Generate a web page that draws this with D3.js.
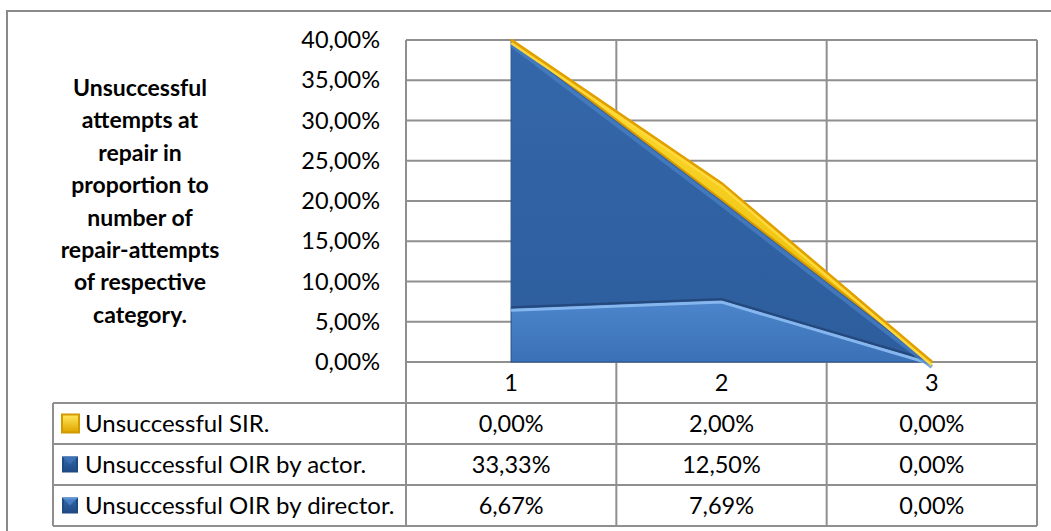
<!DOCTYPE html>
<html><head><meta charset="utf-8">
<script src="https://cdn.jsdelivr.net/npm/d3@7"></script>
<style>
html,body{margin:0;padding:0;background:#fff;overflow:hidden;}
svg{display:block;font-family:Lato,"Open Sans",sans-serif;}
</style></head>
<body>
<svg id="chart" width="1051" height="531"></svg>
<script>
// ---- data ----
const categories = ["1", "2", "3"];
const seriesNames = ["Unsuccessful SIR.", "Unsuccessful OIR by actor.", "Unsuccessful OIR by director."];
const sirValues = [0.00, 2.00, 0.00];
const actorValues = [33.33, 12.50, 0.00];
const directorValues = [6.67, 7.69, 0.00];
const yTicks = [0, 5, 10, 15, 20, 25, 30, 35, 40];
const titleLines = ["Unsuccessful", "attempts at", "repair in", "proportion to", "number of", "repair-attempts", "of respective", "category."];

// ---- layout ----
const svg = d3.select("#chart");
const plot = {left: 406, right: 1037, top: 40, bottom: 362};
const tableLeft = 53, rowH = 41;
const gridColor = "#8f8f8f";
const loc = d3.formatLocale({decimal: ",", thousands: ".", grouping: [3], currency: ["", ""]});
const fmt = v => loc.format(".2f")(v) + "%";

const x = d3.scaleBand().domain(categories).range([plot.left, plot.right]).padding(0);
const xc = c => x(c) + x.bandwidth() / 2;
const y = d3.scaleLinear().domain([0, 40]).range([plot.bottom, plot.top]);

// defs
const defs = svg.append("defs");
function lg(id, stops, x1=0, y1=0, x2=0, y2=1) {
  const g = defs.append("linearGradient").attr("id", id)
    .attr("x1", x1).attr("y1", y1).attr("x2", x2).attr("y2", y2);
  stops.forEach(s => g.append("stop").attr("offset", s[0]).attr("stop-color", s[1]));
}
lg("gDir", [[0, "#4d86cc"], [1, "#3a70b6"]]);
lg("gAct", [[0, "#3467aa"], [1, "#2d5d9c"]]);
lg("gSir", [[0, "#ffe03a"], [1, "#e8b800"]]);
lg("mGold", [[0, "#ffe45a"], [1, "#e0a800"]]);
lg("mBlue", [[0, "#3e74ba"], [1, "#23508c"]]);

// outer border
svg.append("rect").attr("x", 7).attr("y", 11).attr("width", 1100).attr("height", 600)
  .attr("fill", "none").attr("stroke", "#8a8a8a").attr("stroke-width", 2);

// horizontal gridlines
svg.append("g").selectAll("line").data(yTicks).join("line")
  .attr("x1", plot.left).attr("x2", plot.right)
  .attr("y1", d => y(d)).attr("y2", d => y(d))
  .attr("stroke", gridColor).attr("stroke-width", 2);

// vertical lines (category boundaries), through plot and table
const bounds = categories.map(c => x(c)).concat([plot.right]);
svg.append("g").selectAll("line").data(bounds).join("line")
  .attr("x1", d => d).attr("x2", d => d)
  .attr("y1", plot.top).attr("y2", plot.bottom + rowH * 4)
  .attr("stroke", gridColor).attr("stroke-width", 2);

// table horizontal lines
const tableRowsY = [1, 2, 3, 4].map(i => plot.bottom + rowH * i);
svg.append("g").selectAll("line").data(tableRowsY).join("line")
  .attr("x1", tableLeft).attr("x2", plot.right)
  .attr("y1", d => d).attr("y2", d => d)
  .attr("stroke", gridColor).attr("stroke-width", 2);
svg.append("line").attr("x1", tableLeft).attr("x2", tableLeft)
  .attr("y1", plot.bottom + rowH).attr("y2", plot.bottom + rowH * 4)
  .attr("stroke", gridColor).attr("stroke-width", 2);

// stacked areas
const rows = categories.map((c, i) => ({cat: c, director: directorValues[i], actor: actorValues[i], sir: sirValues[i]}));
const stack = d3.stack().keys(["director", "actor", "sir"]);
const stacked = stack(rows);
const area = d3.area().x(d => xc(d.data.cat)).y0(d => y(d[0])).y1(d => y(d[1]));
const topLine = d3.line().x(d => xc(d.data.cat)).y(d => y(d[1]));
const fills = {director: "url(#gDir)", actor: "url(#gAct)", sir: "url(#gSir)"};
const g = svg.append("g");
stacked.forEach(s => {
  g.append("path").datum(s).attr("d", area).attr("fill", fills[s.key])
    .attr("stroke", s.key === "sir" ? "#d99a00" : "#2a5590").attr("stroke-width", s.key === "sir" ? 2 : 1.2)
    .attr("stroke-linejoin", "round");
});
// bevel highlights along top edges
const dirS = stacked[0], actS = stacked[1], sirS = stacked[2];
g.append("path").datum(dirS).attr("d", topLine).attr("fill", "none")
  .attr("stroke", "#86b6ee").attr("stroke-width", 3).attr("transform", "translate(0,2)");
g.append("path").datum(dirS).attr("d", topLine).attr("fill", "none")
  .attr("stroke", "#24487c").attr("stroke-width", 2).attr("transform", "translate(0,-1)");
g.append("path").datum(actS).attr("d", topLine).attr("fill", "none")
  .attr("stroke", "#4a82c6").attr("stroke-width", 4).attr("transform", "translate(0,5)").attr("opacity", 0.7);
g.append("path").datum(sirS).attr("d", topLine).attr("fill", "none")
  .attr("stroke", "#e0a000").attr("stroke-width", 3).attr("stroke-linejoin", "round");
g.append("path").datum(sirS).attr("d", topLine).attr("fill", "none")
  .attr("stroke", "#ffd83a").attr("stroke-width", 2.5).attr("transform", "translate(0,3)");

// y axis labels
const yAxis = d3.axisLeft(y).tickValues(yTicks).tickFormat(fmt).tickSize(0).tickPadding(0);
const ya = svg.append("g").attr("transform", "translate(380,0)").call(yAxis);
ya.select(".domain").remove();
ya.selectAll("text").attr("font-size", "23.5px").attr("font-family", "Lato").attr("fill", "#000");

// x axis (category header row)
const xAxis = d3.axisBottom(x).tickSize(0).tickPadding(0);
const xa = svg.append("g").attr("transform", `translate(0,${plot.bottom + rowH / 2})`).call(xAxis);
xa.select(".domain").remove();
xa.selectAll("text").attr("font-size", "23.5px").attr("font-family", "Lato").attr("fill", "#000")
  .attr("dy", "0.35em");

// table rows
const tableSeries = [
  {name: seriesNames[0], vals: sirValues, marker: "gold"},
  {name: seriesNames[1], vals: actorValues, marker: "blue"},
  {name: seriesNames[2], vals: directorValues, marker: "blue"}
];
tableSeries.forEach((s, i) => {
  const cy = plot.bottom + rowH * (i + 1) + rowH / 2;
  if (s.marker === "gold") {
    svg.append("rect").attr("x", 61).attr("y", cy - 10).attr("width", 19).attr("height", 20).attr("fill", "#d09a00");
    svg.append("rect").attr("x", 63).attr("y", cy - 8).attr("width", 15).attr("height", 16).attr("fill", "url(#mGold)");
  } else {
    svg.append("rect").attr("x", 62).attr("y", cy - 8).attr("width", 16).attr("height", 16).attr("fill", "#1f4a84");
    svg.append("path").attr("d", `M62,${cy - 8}L78,${cy - 8}L70,${cy}Z`).attr("fill", i === 2 ? "#5a94d8" : "#3f72b4");
    svg.append("rect").attr("x", 64).attr("y", cy - 6).attr("width", 12).attr("height", 12).attr("fill", "url(#mBlue)").attr("opacity", 0.6);
  }
  svg.append("text").attr("x", 85).attr("y", cy).attr("dy", "0.35em")
    .attr("font-size", "24px").attr("fill", "#000").text(s.name);
  svg.append("g").selectAll("text").data(s.vals).join("text")
    .attr("x", (d, j) => xc(categories[j])).attr("y", cy).attr("dy", "0.35em")
    .attr("text-anchor", "middle").attr("font-size", "23.5px").attr("fill", "#000")
    .text(d => fmt(d));
});

// title
svg.append("g").selectAll("text").data(titleLines).join("text")
  .attr("x", 140).attr("y", (d, i) => 88 + i * 32.4).attr("dy", "0.35em")
  .attr("text-anchor", "middle").attr("font-size", "23px").attr("font-weight", "bold")
  .attr("font-family", "Lato").attr("fill", "#000").text(d => d);
</script>
</body></html>
